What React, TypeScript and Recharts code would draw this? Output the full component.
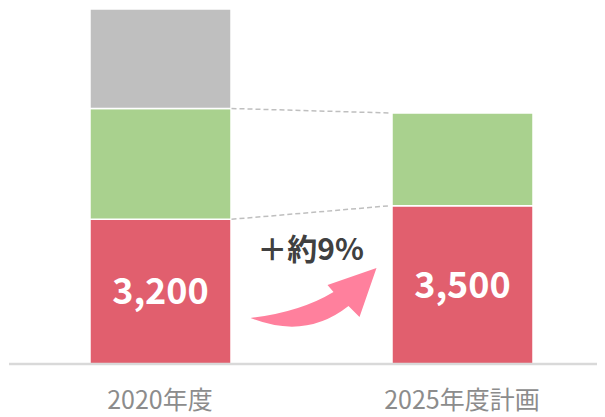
import { BarChart, Bar, XAxis, YAxis, ReferenceLine, LabelList } from 'recharts'

const categories = ['2020年度', '2025年度計画']
const baseValues = [3200, 3500]
const addedValues = [2450, 2050]
const otherValues = [2200, null]
const growthLabel = '＋約9%'

const BAR = 141
const FONT = "'Noto Sans CJK JP', 'Noto Sans', sans-serif"

const data = categories.map((name, i) => ({
  name,
  base: baseValues[i],
  added: addedValues[i],
  other: otherValues[i],
}))

// dashed connector between the right edge of bar 1 and left edge of bar 2
const Connector = (props: any) => {
  const { x1, y1, x2, y2 } = props
  return (
    <line
      x1={x1 + BAR / 2 + 1}
      y1={y1}
      x2={x2 - BAR / 2 - 1}
      y2={y2}
      stroke="#BFBFBF"
      strokeWidth={1.5}
      strokeDasharray="5 3"
    />
  )
}

// curved pink arrow + growth text, placed in the gap between the bars
const GrowthArrow = (props: any) => {
  const ox = props.x1 + BAR / 2
  const oy = props.y1
  const d = `M${ox + 20},${oy - 46} Q${ox + 70},${oy - 52} ${ox + 103},${oy - 72} L${ox + 97},${oy - 79} L${ox + 146},${oy - 96} L${ox + 129},${oy - 47} L${ox + 118},${oy - 58} Q${ox + 75},${oy - 24} ${ox + 20},${oy - 46} Z`
  return (
    <g>
      <path d={d} fill="#FF809D" />
      <text x={ox + 80} y={oy - 104} textAnchor="middle" fontSize={30} fontWeight="bold" fill="#404040" fontFamily={FONT}>
        {growthLabel}
      </text>
    </g>
  )
}

const Tick = ({ x, y, payload }: any) => (
  <text x={x} y={y + 37} textAnchor="middle" fontSize={25} fill="#8C8C8C" fontFamily={FONT}>
    {payload.value}
  </text>
)

export default function App() {
  const top0 = baseValues[0] + addedValues[0]
  const top1 = baseValues[1] + addedValues[1]
  return (
    <div style={{ width: 597, height: 409, overflow: 'hidden' }}>
      <BarChart width={605} height={409} data={data} margin={{ top: 1, right: 0, bottom: 0, left: 1 }}>
        <XAxis
          dataKey="name"
          axisLine={{ stroke: '#D9D9D9', strokeWidth: 2.5 }}
          tickLine={false}
          tick={<Tick />}
          height={53}
        />
        <YAxis hide domain={[0, 7850]} />
        <Bar dataKey="base" stackId="a" fill="#E15F6E" stroke="#fff" strokeWidth={1.5} barSize={BAR} isAnimationActive={false}>
          <LabelList
            dataKey="base"
            position="center"
            formatter={(v: any) => Number(v).toLocaleString('en-US')}
            fill="#fff"
            fontSize={36}
            fontWeight="bold"
            fontFamily={FONT}
          />
        </Bar>
        <Bar dataKey="added" stackId="a" fill="#A9D18E" stroke="#fff" strokeWidth={1.5} barSize={BAR} isAnimationActive={false} />
        <Bar dataKey="other" stackId="a" fill="#BFBFBF" stroke="#fff" strokeWidth={1.5} barSize={BAR} isAnimationActive={false} />
        <ReferenceLine
          segment={[{ x: categories[0], y: baseValues[0] }, { x: categories[1], y: baseValues[1] }]}
          shape={Connector}
        />
        <ReferenceLine
          segment={[{ x: categories[0], y: top0 }, { x: categories[1], y: top1 }]}
          shape={Connector}
        />
        <ReferenceLine
          segment={[{ x: categories[0], y: 0 }, { x: categories[1], y: 0 }]}
          shape={GrowthArrow}
        />
      </BarChart>
    </div>
  )
}
